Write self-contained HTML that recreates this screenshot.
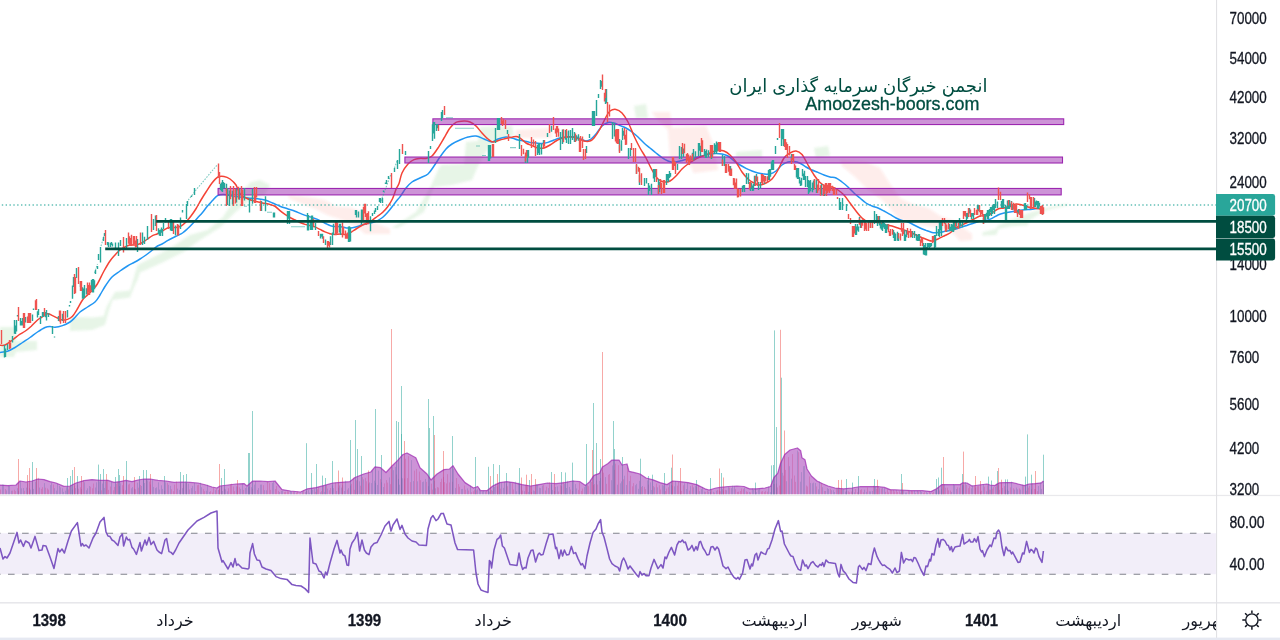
<!DOCTYPE html>
<html lang="fa"><head><meta charset="utf-8"><title>Chart</title>
<style>html,body{margin:0;padding:0;background:#fff;width:1280px;height:640px;overflow:hidden}svg{display:block;will-change:transform;font-family:"Liberation Sans",sans-serif}</style></head>
<body>
<svg width="1280" height="640" viewBox="0 0 1280 640">
<defs><clipPath id="tc"><rect x="0" y="603" width="1216" height="36"/></clipPath><filter id="bl" x="-10%" y="-10%" width="120%" height="120%"><feGaussianBlur stdDeviation="0.8"/></filter></defs>
<rect width="1280" height="640" fill="#fff"/>
<polygon points="0,327 15,327 16,341 37,341 37,350 16,352 14,357 0,357" fill="#4caf50" fill-opacity="0.13" filter="url(#bl)"/>
<polygon points="70,317 92.5,317.5 103.75,316.25 106.25,307.5 112.5,296.25 115,292 130,290.6 132.5,282.5 137.5,265 157.5,255 175,245 190,235 207.5,230 222.5,217.5 232.5,202.5 250,182.5 260,180 270,185 265,195 250,200 235,212.5 220,227.5 200,240 182.5,252.5 162.5,262.5 140,272.5 137.5,280 135,285 130,297.5 112.5,300 108.75,311.25 105,325 92.5,330 70,331" fill="#4caf50" fill-opacity="0.13" filter="url(#bl)"/>
<polygon points="288,195 310,197.5 325,200 335,206.25 350,207.5 362,212 372,222 390,229 390,234 365,234 356,226 340,219 327.5,215 315,208.75 300,203 290,199" fill="#f44336" fill-opacity="0.1" filter="url(#bl)"/>
<polygon points="392,228 416,212 430,188 438,170 441,165 464,164 466,142 478,141 480,127 512,126 514,135 492,143 486,152 478,166 472,180 452,185 434,187 424,212 398,228" fill="#4caf50" fill-opacity="0.13" filter="url(#bl)"/>
<polygon points="516,130 552,128 552,138 516,138" fill="#f44336" fill-opacity="0.1" filter="url(#bl)"/>
<polygon points="634,106 646,104 648,118 636,118" fill="#4caf50" fill-opacity="0.13" filter="url(#bl)"/>
<polygon points="652,112 670,112 672,128 706,126 714,146 718,170 694,173 688,162 670,158 668,130 656,118" fill="#f44336" fill-opacity="0.1" filter="url(#bl)"/>
<polygon points="736,152 762,150 762,158 736,158" fill="#4caf50" fill-opacity="0.13" filter="url(#bl)"/>
<polygon points="814,148 828,146 830,156 816,158" fill="#4caf50" fill-opacity="0.13" filter="url(#bl)"/>
<polygon points="840,160 866,162 880,168 890,184 900,198 912,204 928,208 940,216 952,220 972,234 972,240 960,241 954,234 940,228 928,226 912,222 900,220 888,206 880,198 866,188 854,176 842,166" fill="#f44336" fill-opacity="0.1" filter="url(#bl)"/>
<polygon points="982.5,232.5 996,228.75 998.75,225 1010,220 1020,216.25 1030,212.5 1040,210 1047.5,207.5 1057.5,205.6 1067.5,203.75 1067.5,205.6 1057.5,207.5 1047.5,210 1040,213.75 1030,220 1027.5,225.6 1012.5,226.25 998.75,228.75 996.25,235 982.5,235.6" fill="#4caf50" fill-opacity="0.13" filter="url(#bl)"/>
<line x1="0" y1="205" x2="1216.55" y2="205" stroke="#26a69a" stroke-width="1.6" stroke-dasharray="1.4 2.44" stroke-dashoffset="2.04" stroke-opacity="0.72"/>
<path d="M0 352.5C1.2 352.3 5.1 352.1 7.5 351.25C9.9 350.4 12.6 348.9 15 347.5C17.4 346.1 20.1 344.1 22.5 342.5C24.9 340.9 27.6 339.2 30 337.5C32.4 335.8 35.1 333.6 37.5 332C39.9 330.4 43.0 328.4 45 327.5C47.0 326.6 48.4 326.5 50 326.5C51.6 326.5 53.0 327.4 55 327.25C57.0 327.1 60.1 326.4 62.5 325.6C64.9 324.8 68.0 323.3 70 322C72.0 320.7 73.4 319.1 75 317.5C76.6 315.9 78.0 313.7 80 312C82.0 310.3 85.1 308.6 87.5 307C89.9 305.4 93.0 303.9 95 302C97.0 300.1 98.4 297.5 100 295C101.6 292.5 103.1 289.4 105 286.5C106.9 283.6 109.6 279.5 112 277C114.4 274.5 117.5 272.8 120 271C122.5 269.2 125.3 267.4 127.5 266C129.7 264.6 132.0 263.6 134 262.5C136.0 261.4 138.1 260.2 140 259C141.9 257.8 144.0 256.4 146 255C148.0 253.6 150.7 251.4 152.5 250C154.3 248.6 155.9 247.0 157.5 246C159.1 245.0 160.9 244.6 162.5 243.75C164.1 242.9 165.9 241.5 167.5 240.6C169.1 239.7 170.9 238.8 172.5 238C174.1 237.2 175.9 236.4 177.5 235.6C179.1 234.8 180.9 234.1 182.5 233C184.1 231.9 185.9 230.2 187.5 228.75C189.1 227.3 190.9 225.5 192.5 223.75C194.1 222.0 195.9 219.8 197.5 218C199.1 216.2 200.9 214.4 202.5 212.5C204.1 210.6 205.9 207.9 207.5 206C209.1 204.1 210.9 202.3 212.5 200.6C214.1 198.9 215.7 196.6 217.5 195.6C219.3 194.6 221.7 194.3 224 194.4C226.3 194.5 229.4 195.6 232 196C234.6 196.4 237.4 196.7 240 197C242.6 197.3 245.2 197.7 248 198C250.8 198.3 254.8 198.4 257.5 198.75C260.2 199.1 262.6 199.3 265 200C267.4 200.7 270.1 202.0 272.5 203C274.9 204.0 277.6 205.3 280 206.25C282.4 207.2 285.1 207.9 287.5 208.75C289.9 209.6 292.6 210.3 295 211.25C297.4 212.2 300.1 213.5 302.5 214.4C304.9 215.3 307.6 216.1 310 216.9C312.4 217.7 315.5 218.6 317.5 219.4C319.5 220.2 320.9 221.1 322.5 221.9C324.1 222.7 325.9 223.7 327.5 224.4C329.1 225.1 330.9 225.9 332.5 226.25C334.1 226.6 335.9 226.4 337.5 226.5C339.1 226.6 340.9 226.7 342.5 226.9C344.1 227.1 345.9 227.9 347.5 228C349.1 228.1 350.9 228.0 352.5 227.75C354.1 227.5 355.9 227.0 357.5 226.5C359.1 226.0 360.9 225.2 362.5 224.75C364.1 224.3 365.9 223.9 367.5 223.5C369.1 223.1 370.9 223.0 372.5 222.5C374.1 222.0 375.9 221.4 377.5 220.6C379.1 219.8 380.9 218.8 382.5 217.5C384.1 216.2 385.9 214.3 387.5 212.5C389.1 210.7 391.1 208.1 392.5 206.25C393.9 204.4 395.1 202.7 396.25 201.25C397.4 199.8 398.4 199.0 400 196.9C401.6 194.8 404.1 190.4 406 188C407.9 185.6 409.8 183.6 412 182C414.2 180.4 417.4 179.3 420 178C422.6 176.7 425.8 175.9 428 174C430.2 172.1 432.1 168.7 434 166C435.9 163.3 438.1 159.7 440 157C441.9 154.3 444.1 151.1 446 149C447.9 146.9 449.8 145.4 452 144C454.2 142.6 457.4 141.1 460 140C462.6 138.9 465.4 137.6 468 137C470.6 136.4 473.4 135.7 476 136C478.6 136.3 481.4 138.0 484 139C486.6 140.0 489.8 142.0 492 142C494.2 142.0 495.8 139.8 498 139C500.2 138.2 503.8 137.2 506 137C508.2 136.8 510.1 137.5 512 138C513.9 138.5 516.1 139.5 518 140C519.9 140.5 522.1 140.6 524 141C525.9 141.4 528.1 142.1 530 142.4C531.9 142.7 534.1 142.8 536 143C537.9 143.2 540.1 143.7 542 143.6C543.9 143.5 546.1 143.0 548 142.4C549.9 141.8 552.1 140.7 554 140C555.9 139.3 557.8 138.5 560 138C562.2 137.5 565.4 137.2 568 137C570.6 136.8 573.8 136.6 576 137C578.2 137.4 580.4 138.9 582 139.5C583.6 140.1 584.6 141.1 586 141C587.4 140.9 589.4 140.1 591 139C592.6 137.9 594.2 136.1 596 134C597.8 131.9 600.1 127.9 602 126C603.9 124.1 606.1 122.9 608 122.4C609.9 121.9 612.1 122.5 614 123C615.9 123.5 618.1 124.8 620 125.6C621.9 126.4 624.1 127.0 626 128C627.9 129.0 630.1 130.6 632 132C633.9 133.4 636.1 135.2 638 137C639.9 138.8 642.1 141.2 644 143C645.9 144.8 648.1 146.4 650 148C651.9 149.6 654.1 151.5 656 153C657.9 154.5 660.1 156.3 662 157.6C663.9 158.9 666.1 160.2 668 161C669.9 161.8 672.1 162.4 674 162.4C675.9 162.4 678.1 161.4 680 161C681.9 160.6 684.1 159.9 686 159.6C687.9 159.3 690.1 159.4 692 159C693.9 158.6 696.1 157.5 698 157C699.9 156.5 702.1 156.1 704 155.6C705.9 155.1 708.1 154.3 710 154C711.9 153.7 714.1 153.6 716 153.6C717.9 153.6 720.1 153.6 722 154C723.9 154.4 726.1 154.9 728 156C729.9 157.1 732.1 159.6 734 161C735.9 162.4 738.1 163.8 740 165C741.9 166.2 744.1 167.4 746 168.4C747.9 169.4 750.1 170.3 752 171C753.9 171.7 756.1 172.5 758 173C759.9 173.5 762.1 173.8 764 174C765.9 174.2 768.1 174.5 770 174C771.9 173.5 774.1 172.4 776 171C777.9 169.6 780.1 166.4 782 165C783.9 163.6 786.1 162.5 788 162C789.9 161.5 792.1 161.4 794 161.6C795.9 161.8 798.1 162.4 800 163.3C801.9 164.2 804.1 165.9 806 167C807.9 168.1 810.1 169.1 812 170C813.9 170.9 816.1 171.6 818 172.4C819.9 173.2 822.1 174.3 824 175C825.9 175.7 828.1 176.5 830 177C831.9 177.5 834.1 177.2 836 178C837.9 178.8 840.1 180.6 842 182C843.9 183.4 846.1 185.2 848 187C849.9 188.8 852.1 191.2 854 193C855.9 194.8 858.1 196.4 860 198C861.9 199.6 864.1 201.7 866 203C867.9 204.3 870.1 205.2 872 206C873.9 206.8 876.1 207.2 878 208C879.9 208.8 882.1 210.0 884 211C885.9 212.0 888.1 213.3 890 214.4C891.9 215.5 894.1 217.0 896 218C897.9 219.0 900.1 219.8 902 220.4C903.9 221.0 906.1 221.3 908 222C909.9 222.7 912.1 224.0 914 225C915.9 226.0 918.1 227.1 920 228C921.9 228.9 924.1 229.7 926 230.4C927.9 231.1 930.1 232.0 932 232.4C933.9 232.8 936.1 232.7 938 232.6C939.9 232.5 942.1 232.0 944 231.6C945.9 231.2 948.1 230.8 950 230.4C951.9 230.0 954.1 229.5 956 229C957.9 228.5 960.1 227.6 962 227C963.9 226.4 966.1 225.6 968 225C969.9 224.4 972.1 223.6 974 223C975.9 222.4 978.1 221.4 980 221C981.9 220.6 984.1 220.8 986 220.4C987.9 220.0 990.1 219.3 992 218.4C993.9 217.5 996.1 215.9 998 215C999.9 214.1 1002.1 213.5 1004 213C1005.9 212.5 1008.1 212.3 1010 212C1011.9 211.7 1014.1 211.3 1016 211C1017.9 210.7 1020.1 210.2 1022 210C1023.9 209.8 1026.1 209.8 1028 209.6C1029.9 209.4 1032.1 209.3 1034 209C1035.9 208.7 1038.6 208.2 1040 208C1041.4 207.8 1042.5 207.7 1043 207.7" stroke="#2196f3" stroke-width="1.5" fill="none" stroke-linejoin="round"/>
<path d="M0 345.2C0.8 345.2 3.0 345.8 5 345C7.0 344.2 10.3 341.6 12.5 340C14.7 338.4 16.8 336.4 18.75 335C20.8 333.6 23.0 332.6 25 331.25C27.0 329.9 29.2 328.1 31.25 326.25C33.2 324.4 35.9 321.4 37.5 320C39.1 318.6 39.6 318.5 41.25 317.5C42.9 316.5 45.7 314.1 47.5 313.75C49.3 313.4 50.9 314.9 52.5 315.6C54.1 316.3 55.9 317.3 57.5 318C59.1 318.7 60.9 319.8 62.5 320C64.1 320.2 65.9 320.0 67.5 319.4C69.1 318.8 70.9 318.0 72.5 316.25C74.1 314.5 75.9 311.4 77.5 308.75C79.1 306.1 80.9 302.2 82.5 300C84.1 297.8 85.9 296.6 87.5 295C89.1 293.4 90.9 291.8 92.5 290C94.1 288.2 95.7 286.8 97.5 283.75C99.3 280.7 102.0 274.6 104 271C106.0 267.4 108.2 263.6 110 261C111.8 258.4 113.4 256.8 115 255C116.6 253.2 118.4 251.3 120 250C121.6 248.7 123.4 247.8 125 247C126.6 246.2 128.2 245.3 130 245C131.8 244.7 134.0 245.4 136 245C138.0 244.6 140.7 243.5 142.5 242.5C144.3 241.5 145.9 240.1 147.5 239C149.1 237.9 150.9 236.4 152.5 235.6C154.1 234.8 155.9 234.5 157.5 233.75C159.1 233.0 160.9 231.9 162.5 231C164.1 230.1 166.1 228.6 167.5 228C168.9 227.4 169.6 227.6 171 227.5C172.4 227.4 174.4 227.7 176 227.5C177.6 227.3 179.4 226.9 181 226C182.6 225.1 184.4 223.6 186 222C187.6 220.4 189.4 218.1 191 216C192.6 213.9 194.4 211.3 196 208.75C197.6 206.2 199.4 202.7 201 200C202.6 197.3 204.2 194.7 206 192C207.8 189.3 210.1 185.4 212 183C213.9 180.6 216.1 178.1 218 177C219.9 175.9 222.1 176.1 224 176.4C225.9 176.7 228.1 177.6 230 179C231.9 180.4 234.4 182.6 236 185C237.6 187.4 238.2 191.6 240 193.75C241.8 195.9 245.1 197.6 247.5 198.75C249.9 199.9 252.6 200.6 255 201.25C257.4 201.9 260.1 202.5 262.5 203C264.9 203.5 268.0 203.9 270 204.4C272.0 204.9 273.4 205.3 275 206.25C276.6 207.2 278.4 209.3 280 210.6C281.6 211.9 283.4 213.3 285 214.4C286.6 215.5 288.4 216.6 290 217.5C291.6 218.4 293.4 219.2 295 220C296.6 220.8 298.4 221.8 300 222.5C301.6 223.2 303.4 223.9 305 224.4C306.6 224.9 308.4 225.2 310 225.6C311.6 226.0 313.4 226.3 315 226.9C316.6 227.5 318.4 228.6 320 229.4C321.6 230.2 323.4 231.2 325 231.9C326.6 232.6 328.4 233.3 330 233.75C331.6 234.2 333.4 234.4 335 234.4C336.6 234.4 338.4 234.0 340 234C341.6 234.0 343.6 234.4 345 234.4C346.4 234.4 347.6 234.3 348.75 233.75C349.9 233.2 351.1 232.2 352.5 231.25C353.9 230.3 355.9 229.0 357.5 228C359.1 227.0 360.9 225.8 362.5 225C364.1 224.2 365.9 223.8 367.5 223C369.1 222.2 370.9 221.1 372.5 220C374.1 218.9 375.9 217.4 377.5 216.25C379.1 215.1 380.9 214.0 382.5 212.5C384.1 211.0 385.9 209.2 387.5 207C389.1 204.8 391.1 201.7 392.5 198.75C393.9 195.8 395.2 191.2 396.25 188.75C397.3 186.3 398.1 186.0 399 183.5C399.9 181.0 400.6 176.1 402 173C403.4 169.9 406.1 166.1 408 164C409.9 161.9 412.1 160.5 414 159.6C415.9 158.7 418.1 158.6 420 158.4C421.9 158.2 424.1 158.8 426 158.4C427.9 158.0 430.1 157.7 432 156C433.9 154.3 436.1 150.9 438 148C439.9 145.1 442.1 141.2 444 138C445.9 134.8 448.1 130.5 450 128C451.9 125.5 453.8 123.5 456 122.4C458.2 121.3 461.8 121.1 464 121C466.2 120.9 468.1 121.2 470 122C471.9 122.8 474.1 124.2 476 126C477.9 127.8 480.1 130.9 482 133C483.9 135.1 486.2 137.6 488 139C489.8 140.4 491.1 141.8 493 142C494.9 142.2 497.6 140.6 500 140C502.4 139.4 505.4 138.6 508 138C510.6 137.4 514.1 136.4 516 136.4C517.9 136.4 518.4 136.9 520 138C521.6 139.1 524.1 141.8 526 143C527.9 144.2 530.1 144.8 532 145.6C533.9 146.4 536.1 147.6 538 148C539.9 148.4 542.1 148.5 544 148C545.9 147.5 548.1 146.1 550 145C551.9 143.9 554.4 142.0 556 141C557.6 140.0 558.4 139.6 560 139C561.6 138.4 564.1 137.3 566 137C567.9 136.7 570.1 136.8 572 137C573.9 137.2 576.1 137.9 578 138.5C579.9 139.1 582.1 140.6 584 141C585.9 141.4 588.4 141.5 590 141C591.6 140.5 592.4 139.9 594 138C595.6 136.1 598.1 132.4 600 129C601.9 125.6 604.4 119.9 606 117C607.6 114.1 608.4 112.2 610 111C611.6 109.8 614.1 109.1 616 109.4C617.9 109.7 620.1 111.0 622 113C623.9 115.0 626.1 118.3 628 122C629.9 125.7 632.1 131.8 634 136C635.9 140.2 638.1 144.5 640 148C641.9 151.5 644.1 154.5 646 158C647.9 161.5 650.1 166.6 652 170C653.9 173.4 656.1 177.1 658 179C659.9 180.9 662.1 181.7 664 182C665.9 182.3 668.1 182.0 670 181C671.9 180.0 674.1 177.9 676 176C677.9 174.1 680.1 170.9 682 169C683.9 167.1 686.1 165.4 688 164C689.9 162.6 692.1 161.1 694 160C695.9 158.9 698.1 157.8 700 157C701.9 156.2 704.1 155.8 706 155C707.9 154.2 710.1 152.7 712 152C713.9 151.3 716.1 150.6 718 150.4C719.9 150.2 722.1 150.3 724 151C725.9 151.7 728.1 153.2 730 155C731.9 156.8 734.1 159.3 736 162C737.9 164.7 740.1 169.3 742 172C743.9 174.7 746.1 177.2 748 179C749.9 180.8 752.1 182.0 754 183C755.9 184.0 758.1 185.0 760 185C761.9 185.0 764.1 184.0 766 183C767.9 182.0 770.1 181.1 772 179C773.9 176.9 776.1 173.4 778 170C779.9 166.6 782.1 160.7 784 158C785.9 155.3 788.1 154.1 790 153C791.9 151.9 794.1 150.8 796 151C797.9 151.2 800.1 152.3 802 154.5C803.9 156.7 806.1 161.7 808 165C809.9 168.3 812.1 172.2 814 175C815.9 177.8 818.1 180.7 820 182.5C821.9 184.3 824.1 185.7 826 186.4C827.9 187.1 830.1 186.4 832 187C833.9 187.6 836.1 188.7 838 190C839.9 191.3 842.1 192.9 844 195C845.9 197.1 848.1 200.4 850 203C851.9 205.6 854.1 208.6 856 211C857.9 213.4 860.1 216.3 862 218C863.9 219.7 866.1 221.0 868 221.6C869.9 222.2 872.1 221.8 874 222C875.9 222.2 878.1 222.5 880 223C881.9 223.5 884.1 224.5 886 225C887.9 225.5 890.1 225.5 892 226C893.9 226.5 896.1 227.4 898 228C899.9 228.6 902.1 229.4 904 230C905.9 230.6 908.1 231.2 910 232C911.9 232.8 914.1 234.1 916 235C917.9 235.9 920.1 236.8 922 237.6C923.9 238.4 926.4 239.5 928 240C929.6 240.5 930.4 241.2 932 241C933.6 240.8 936.1 239.8 938 239C939.9 238.2 942.1 237.0 944 236C945.9 235.0 948.1 234.3 950 233C951.9 231.7 954.1 229.3 956 228C957.9 226.7 960.1 226.0 962 225C963.9 224.0 966.1 223.0 968 222C969.9 221.0 972.1 220.0 974 219C975.9 218.0 978.1 216.5 980 216C981.9 215.5 984.1 216.5 986 216C987.9 215.5 990.1 214.1 992 213C993.9 211.9 996.1 209.8 998 209C999.9 208.2 1002.1 208.5 1004 208C1005.9 207.5 1008.1 206.6 1010 206C1011.9 205.4 1014.1 204.2 1016 204C1017.9 203.8 1020.1 204.5 1022 205C1023.9 205.5 1026.1 206.5 1028 207C1029.9 207.5 1032.1 207.7 1034 208C1035.9 208.3 1038.6 208.8 1040 209C1041.4 209.2 1042.5 209.4 1043 209.5" stroke="#f44336" stroke-width="1.5" fill="none" stroke-linejoin="round"/>
<rect x="432.9" y="118.85" width="630.8" height="5.7" fill="#9c27b0" fill-opacity="0.5" stroke="#9c27b0" stroke-width="1.1"/>
<rect x="404.9" y="157.05" width="657.6" height="5.95" fill="#9c27b0" fill-opacity="0.5" stroke="#9c27b0" stroke-width="1.1"/>
<rect x="218.1" y="188.45" width="843.1" height="6.45" fill="#9c27b0" fill-opacity="0.5" stroke="#9c27b0" stroke-width="1.1"/>
<path d="M244 206.2H247M267 212.2H272M275 220.8H290M291 226.7H305M352.5 221.3H356M446 117.7H453M455 128.2H474M476 146.0H480M482 155.5H486M510 147.6H516" stroke="#26a69a" stroke-width="1.1" stroke-opacity="0.55" fill="none"/>
<path d="M4.5 345.0V357.5M5.5 348.6V357.1M4.5 345.0V352.5M4.5 350.0V357.5M7.5 344.0V350.0M12.5 336.0V342.5M14.5 320.0V333.8M16.5 320.0V331.4M14.5 320.0V328.4M15.5 325.6V334.0M17.5 315.0V316.5M20.5 318.0V325.6M22.5 318.0V325.6M20.5 318.0V322.6M21.5 321.0V325.6M25.5 317.0V322.5M32.5 314.5V321.0M33.5 308.5V310.0M37.5 311.2V316.6M38.5 309.0V314.9M38.5 309.0V314.1M37.5 312.4V317.5M40.5 316.0V324.0M42.5 312.0V316.1M43.5 312.0V317.0M42.5 312.0V315.0M42.5 314.0V317.0M45.5 312.0V317.3M46.5 310.0V319.1M48.5 313.3V317.0M46.5 310.0V316.4M46.5 314.2V320.6M52.5 326.0V334.0M54.5 336.5V337.5M58.5 316.0V321.0M62.5 313.8V321.0M67.5 310.0V317.5M69.5 305.0V306.5M70.5 301.0V303.0M72.5 285.6V298.8M73.5 277.0V287.0M76.5 268.0V278.0M80.5 281.0V287.0M82.5 287.3V298.8M83.5 288.6V298.8M84.5 285.0V297.8M86.5 288.3V294.4M84.5 285.0V293.2M83.5 290.5V298.8M91.5 280.1V290.1M92.5 279.0V292.5M94.5 280.2V289.2M93.5 279.0V287.1M93.5 284.4V292.5M95.5 270.0V274.0M97.5 266.0V269.0M98.5 254.0V260.0M100.5 247.0V262.5M103.5 237.0V241.0M104.5 233.0V236.0M107.5 242.0V245.3M108.5 242.2V247.0M110.5 242.8V245.3M112.5 243.6V246.4M111.5 242.0V245.0M110.5 244.0V247.0M115.5 242.5V250.0M118.5 242.5V256.0M120.5 240.0V246.0M126.5 238.0V249.0M137.5 239.0V252.0M142.5 232.5V244.6M144.5 236.8V244.1M142.5 232.5V240.0M142.5 237.5V245.0M147.5 226.0V240.0M153.5 219.0V230.0M155.5 215.6V226.0M158.5 228.2V234.3M159.5 230.0V235.8M160.5 229.5V233.6M162.5 229.1V236.0M161.5 227.5V232.6M160.5 230.9V236.0M163.5 223.0V229.0M165.5 218.0V222.5M170.5 219.0V230.4M172.5 221.6V231.0M171.5 219.0V226.2M171.5 223.8V231.0M175.5 225.6V235.6M180.5 217.5V229.0M182.5 210.0V212.5M186.5 204.0V219.0M187.5 201.0V206.0M191.5 195.6V197.0M194.5 188.0V195.0M220.5 183.8V190.1M221.5 182.5V191.2M223.5 182.1V188.6M224.5 182.9V188.3M226.5 183.7V191.1M222.5 180.0V187.2M222.5 184.8V192.0M227.5 188.1V205.1M229.5 190.5V206.0M232.5 190.7V204.4M236.5 188.7V202.4M239.5 187.9V199.7M244.5 188.0V200.4M249.5 198.8V212.5M252.5 188.8V203.8M261.5 201.0V211.0M265.5 196.2V211.2M273.5 212.5V216.6M274.5 212.5V217.5M273.5 212.5V215.5M273.5 214.5V217.5M287.5 211.0V223.9M289.5 211.0V224.0M288.5 211.0V218.8M289.5 216.2V224.0M307.5 213.0V230.6M308.5 215.1V230.6M307.5 213.0V223.6M307.5 220.0V230.6M310.5 219.8V229.9M312.5 215.6V230.0M311.5 215.6V224.2M311.5 221.4V230.0M315.5 223.0V230.0M320.5 233.8V238.4M322.5 233.8V238.8M321.5 233.8V236.8M322.5 235.8V238.8M325.5 239.4V245.0M330.5 236.2V245.0M332.5 232.5V245.0M333.5 223.8V235.0M339.5 226.7V232.4M340.5 223.8V233.1M339.5 223.8V230.5M340.5 228.2V235.0M348.5 226.6V241.9M349.5 229.9V241.9M350.5 227.6V241.5M349.5 226.2V235.6M348.5 232.5V241.9M355.5 211.9V214.9M356.5 210.0V215.1M358.5 211.6V217.5M355.5 210.0V214.5M356.5 213.0V217.5M361.5 209.4V224.4M362.5 211.9V221.8M362.5 209.4V218.4M361.5 215.4V224.4M370.5 216.2V231.2M372.5 213.0V216.0M374.5 210.5V214.0M375.5 208.0V212.0M377.5 206.0V210.0M379.5 198.0V202.1M380.5 198.0V203.0M382.5 198.0V203.0M380.5 198.0V201.0M380.5 200.0V203.0M383.5 190.5V192.0M385.5 182.5V184.0M386.5 180.0V184.0M388.5 176.0V179.0M394.5 168.0V172.0M397.5 160.0V169.0M399.5 149.0V164.0M405.5 151.0V155.0M428.5 151.0V163.0M430.5 146.0V149.0M432.5 124.3V141.0M434.5 122.0V138.8M433.5 122.0V133.4M432.5 129.6V141.0M436.5 124.0V129.2M437.5 124.0V128.2M436.5 126.8V131.0M441.5 112.0V121.0M442.5 110.0V118.0M488.5 145.0V161.0M490.5 145.0V158.6M489.5 145.0V154.6M489.5 151.4V161.0M495.5 128.0V143.0M497.5 118.0V130.0M499.5 118.0V130.0M498.5 118.0V125.2M498.5 122.8V130.0M507.5 130.0V134.0M519.5 134.0V149.0M527.5 150.0V163.0M525.5 155.2V163.0M528.5 150.0V158.0M537.5 144.7V155.0M538.5 143.5V153.2M539.5 143.0V153.4M541.5 144.0V154.5M539.5 143.0V150.2M539.5 147.8V155.0M543.5 140.0V145.4M547.5 133.0V137.0M551.5 125.8V131.8M560.5 132.0V150.0M562.5 129.4V142.8M565.5 130.0V139.8M566.5 131.6V142.9M568.5 130.4V144.0M570.5 130.0V144.0M562.5 135.0V144.0M572.5 128.0V140.0M574.5 132.0V142.0M576.5 135.3V140.8M578.5 134.3V140.7M574.5 132.0V138.0M586.5 146.0V153.0M589.5 134.0V138.0M592.5 111.0V126.0M594.5 111.0V126.0M593.5 111.0V120.0M593.5 117.0V126.0M596.5 100.0V116.0M598.5 94.0V98.0M600.5 80.8V86.7M601.5 80.9V86.7M600.5 80.0V85.4M600.5 83.6V89.0M606.5 89.0V103.3M605.5 95.0V104.0M612.5 124.4V135.1M614.5 123.0V136.5M612.5 122.0V132.2M612.5 128.8V139.0M619.5 140.4V151.6M621.5 140.3V150.8M619.5 139.0V147.4M622.5 128.0V140.0M623.5 130.7V135.8M622.5 128.0V135.2M622.5 132.8V140.0M628.5 148.0V159.0M630.5 148.0V156.3M628.5 148.0V154.6M628.5 152.4V159.0M636.5 164.7V174.0M639.5 174.8V185.0M644.5 178.0V186.0M646.5 178.0V183.5M644.5 178.0V182.8M644.5 181.2V186.0M648.5 183.6V195.0M649.5 185.4V191.1M651.5 183.7V195.0M648.5 183.0V190.2M648.5 187.8V195.0M653.5 169.0V178.6M654.5 169.0V182.0M655.5 169.0V176.8M654.5 174.2V182.0M658.5 179.0V194.0M659.5 181.7V192.0M666.5 174.1V182.6M668.5 174.0V182.1M667.5 174.0V180.6M666.5 178.4V185.0M669.5 171.2V178.0M670.5 173.0V176.8M669.5 171.0V175.2M669.5 173.8V178.0M677.5 164.1V170.0M679.5 150.1V156.9M681.5 146.9V159.0M679.5 146.0V153.8M679.5 151.2V159.0M683.5 148.6V157.0M692.5 152.7V157.1M693.5 149.1V160.4M695.5 151.2V157.2M693.5 149.0V156.2M698.5 143.0V153.6M700.5 145.7V156.0M699.5 143.0V150.8M698.5 148.2V156.0M704.5 149.0V156.0M705.5 150.9V158.0M706.5 149.5V158.0M708.5 150.3V157.3M704.5 149.0V154.4M706.5 152.6V158.0M711.5 150.6V159.0M714.5 143.2V154.0M715.5 144.8V152.0M717.5 142.7V151.2M716.5 141.6V149.0M716.5 146.6V154.0M722.5 155.0V166.0M724.5 155.9V166.0M722.5 155.0V161.6M730.5 166.0V172.0M742.5 185.7V190.2M744.5 185.0V192.0M743.5 185.0V189.2M742.5 187.8V192.0M746.5 173.0V182.3M748.5 173.2V184.0M746.5 173.0V179.6M746.5 177.4V184.0M750.5 183.9V191.0M751.5 182.7V188.8M753.5 184.0V190.7M752.5 185.6V191.0M754.5 175.8V186.0M756.5 174.0V181.2M758.5 183.5V187.6M760.5 182.0V188.8M758.5 182.0V186.8M758.5 185.2V190.0M765.5 176.0V180.8M764.5 179.2V184.0M768.5 170.1V180.0M770.5 169.0V176.7M769.5 169.0V175.6M769.5 173.4V180.0M771.5 161.6V170.0M773.5 160.0V170.0M772.5 160.0V166.0M772.5 164.0V170.0M775.5 146.0V154.0M777.5 138.0V140.0M781.5 129.0V146.0M783.5 129.0V146.0M782.5 129.0V139.2M781.5 135.8V146.0M791.5 154.0V160.7M796.5 168.1V177.4M798.5 168.0V179.0M797.5 168.0V174.6M797.5 172.4V179.0M799.5 177.7V183.5M801.5 177.7V185.6M799.5 177.0V182.4M800.5 180.6V186.0M802.5 169.9V176.3M804.5 170.8V180.0M802.5 169.0V175.6M803.5 173.4V180.0M805.5 177.0V185.6M807.5 176.0V187.0M805.5 176.0V182.6M805.5 180.4V187.0M808.5 180.0V191.9M809.5 180.7V192.5M810.5 180.0V191.2M812.5 182.6V192.3M808.5 180.0V188.4M808.5 185.6V194.0M813.5 180.4V190.0M816.5 179.8V193.0M814.5 179.0V187.4M821.5 184.1V195.3M824.5 188.2V196.0M839.5 198.0V207.0M840.5 202.1V210.0M842.5 198.0V210.0M839.5 198.0V205.2M839.5 202.8V210.0M846.5 204.0V211.0M855.5 224.0V235.0M856.5 226.6V233.2M858.5 226.6V231.7M857.5 224.0V230.6M856.5 228.4V235.0M860.5 220.3V228.0M859.5 217.0V223.6M870.5 220.0V224.8M870.5 223.2V228.0M874.5 214.3V223.6M876.5 214.0V220.0M874.5 211.0V218.8M874.5 216.2V224.0M877.5 216.0V223.1M879.5 216.0V225.4M877.5 220.0V226.0M880.5 222.5V228.5M881.5 224.0V229.7M882.5 222.0V231.0M884.5 222.9V229.0M883.5 222.0V227.4M882.5 225.6V231.0M885.5 224.0V231.7M886.5 225.2V233.0M887.5 224.0V229.4M885.5 227.6V233.0M893.5 231.5V238.0M894.5 232.3V241.0M895.5 233.6V238.7M897.5 231.8V240.7M893.5 230.0V236.6M895.5 234.4V241.0M898.5 236.2V241.0M904.5 230.0V241.0M906.5 230.0V237.2M904.5 230.0V236.6M905.5 234.4V241.0M912.5 233.3V238.0M914.5 231.0V238.0M912.5 231.0V235.2M912.5 233.8V238.0M916.5 234.0V240.5M917.5 236.3V240.9M919.5 234.0V241.0M918.5 234.0V238.2M918.5 236.8V241.0M923.5 243.0V254.5M924.5 245.1V254.9M926.5 247.0V255.6M925.5 243.0V250.6M925.5 248.0V255.6M927.5 243.0V248.0M929.5 243.0V249.7M928.5 243.0V247.2M927.5 245.8V250.0M930.5 243.0V246.9M931.5 243.0V246.3M930.5 243.0V245.4M930.5 244.6V247.0M934.5 235.0V247.4M935.5 235.0V247.4M934.5 235.0V243.4M934.5 240.6V249.0M936.5 226.0V233.2M938.5 228.9V236.0M936.5 226.0V232.0M936.5 230.0V236.0M939.5 222.3V235.7M941.5 221.0V236.1M940.5 221.0V230.6M939.5 227.4V237.0M945.5 223.0V228.4M946.5 226.6V232.0M949.5 224.0V230.5M951.5 224.0V231.0M949.5 224.0V228.2M950.5 226.8V231.0M952.5 224.6V231.7M954.5 221.5V229.4M953.5 221.0V227.6M953.5 225.4V232.0M956.5 222.0V226.4M956.5 221.0V225.8M955.5 224.2V229.0M959.5 221.3V228.0M960.5 219.9V226.1M962.5 221.4V227.2M959.5 218.0V224.0M959.5 222.0V228.0M966.5 213.0V218.2M967.5 213.0V218.8M966.5 213.0V217.2M966.5 215.8V220.0M969.5 208.0V213.4M968.5 211.6V217.0M971.5 213.0V218.3M973.5 213.0V219.0M972.5 213.0V216.6M971.5 215.4V219.0M977.5 205.0V215.0M978.5 205.0V211.0M985.5 214.0V222.2M984.5 214.0V220.0M983.5 218.0V224.0M986.5 212.8V216.1M988.5 210.0V219.0M987.5 210.0V215.4M987.5 213.6V219.0M989.5 209.0V215.4M991.5 207.0V216.0M990.5 207.0V212.4M989.5 210.6V216.0M992.5 205.2V213.3M994.5 204.0V214.0M993.5 204.0V210.0M992.5 208.0V214.0M995.5 199.9V208.0M997.5 201.4V208.0M995.5 199.0V204.4M995.5 202.6V208.0M1001.5 201.1V208.0M1003.5 199.0V208.0M1002.5 199.0V204.4M1002.5 202.6V208.0M1005.5 205.0V220.0M1006.5 207.2V220.0M1005.5 205.0V214.0M1005.5 211.0V220.0M1007.5 200.5V209.0M1009.5 200.0V209.0M1008.5 203.6V209.0M1010.5 203.5V207.3M1011.5 201.0V206.4M1012.5 204.6V210.0M1017.5 210.5V214.2M1018.5 209.0V213.8M1024.5 203.2V210.0M1026.5 205.0V210.0M1025.5 203.0V207.2M1025.5 205.8V210.0M1034.5 198.0V207.0M1036.5 200.4V205.2M1034.5 198.0V203.4M1035.5 201.6V207.0M1037.5 201.1V208.8M1039.5 202.7V206.7M1038.5 201.0V205.8M1038.5 204.2V209.0M1042.5 205.1V215.0" stroke="#26a69a" stroke-width="1.4" fill="none"/>
<path d="M1.5 330.0V344.0M9.5 340.2V349.0M10.5 342.6V348.6M9.5 340.0V345.4M9.5 343.6V349.0M18.5 307.0V321.0M23.5 313.0V328.0M24.5 313.0V328.0M24.5 313.0V322.0M23.5 319.0V328.0M27.5 316.4V323.0M28.5 313.0V323.0M30.5 313.0V323.0M29.5 313.0V319.0M29.5 317.0V323.0M35.5 300.3V308.7M36.5 299.0V310.0M36.5 299.0V305.6M35.5 303.4V310.0M44.5 308.0V316.0M59.5 310.6V321.5M60.5 310.6V323.8M60.5 310.6V318.5M60.5 315.9V323.8M63.5 311.0V320.4M65.5 311.0V323.0M63.5 311.0V318.2M63.5 315.8V323.0M74.5 274.0V294.0M75.5 277.1V293.2M74.5 274.0V286.0M74.5 282.0V294.0M78.5 267.0V284.0M80.5 281.0V291.0M81.5 281.0V291.0M81.5 285.0V291.0M87.5 282.5V294.3M88.5 284.9V292.8M90.5 285.2V291.6M89.5 282.5V290.0M89.5 287.5V295.0M105.5 230.0V245.0M123.5 237.0V252.5M128.5 232.5V243.7M129.5 236.2V246.0M131.5 234.7V246.0M128.5 232.5V240.6M130.5 237.9V246.0M133.5 236.1V245.1M134.5 236.0V244.2M136.5 236.0V246.9M133.5 236.0V242.9M135.5 240.6V247.5M140.5 232.5V245.0M151.5 214.0V232.0M156.5 215.0V231.0M168.5 220.6V229.0M173.5 221.0V234.0M177.5 224.0V235.6M178.5 224.8V235.6M177.5 224.0V231.0M177.5 228.6V235.6M218.5 163.6V178.0M219.5 172.0V184.0M226.5 188.2V201.3M230.5 187.5V199.3M233.5 186.0V206.0M235.5 188.6V203.6M238.5 186.8V199.6M241.5 186.0V200.1M242.5 189.8V206.0M230.5 186.0V198.0M226.5 194.0V206.0M241.5 190.0V206.0M242.5 191.5V206.0M242.5 190.0V199.6M241.5 196.4V206.0M254.5 187.0V203.0M256.5 187.0V197.6M254.5 187.0V196.6M255.5 193.4V203.0M260.5 200.6V211.0M313.5 218.8V226.2M318.5 231.0V236.0M323.5 236.2V243.0M327.5 241.0V247.8M329.5 242.0V247.5M328.5 241.0V245.7M327.5 244.1V248.8M335.5 221.9V235.0M337.5 222.6V233.5M336.5 220.6V229.2M336.5 226.4V235.0M342.5 222.5V237.5M343.5 226.8V234.4M342.5 222.5V231.5M342.5 228.5V237.5M345.5 231.6V238.8M347.5 232.4V238.8M345.5 230.6V235.5M346.5 233.9V238.8M363.5 206.7V220.0M365.5 203.8V216.9M364.5 203.8V213.5M363.5 210.2V220.0M366.5 213.5V221.1M367.5 213.1V220.6M368.5 211.2V224.3M368.5 211.2V219.5M366.5 216.8V225.0M391.5 173.0V188.0M402.5 144.0V154.0M438.5 125.0V131.0M444.5 106.0V115.0M492.5 145.9V157.0M493.5 144.0V157.0M492.5 144.0V151.8M492.5 149.2V157.0M501.5 117.8V123.9M503.5 118.8V124.8M501.5 117.0V122.4M502.5 120.6V126.0M505.5 120.0V129.0M508.5 134.0V141.0M521.5 148.1V153.9M523.5 148.8V154.3M521.5 145.0V151.6M521.5 149.4V156.0M525.5 152.5V161.5M526.5 150.0V157.8M531.5 138.9V148.0M533.5 139.6V146.0M531.5 137.0V143.6M531.5 141.4V148.0M535.5 141.0V156.0M543.5 143.0V149.0M544.5 140.1V146.5M543.5 143.6V149.0M549.5 124.0V132.6M549.5 124.0V129.4M549.5 127.6V133.0M553.5 117.0V130.0M555.5 128.5V133.6M556.5 126.0V136.0M558.5 128.5V136.8M557.5 126.0V132.6M556.5 130.4V137.0M563.5 129.2V142.2M566.5 129.0V138.0M575.5 133.6V139.5M575.5 136.0V142.0M579.5 138.4V152.0M580.5 136.0V152.0M582.5 136.5V148.1M580.5 136.0V145.6M580.5 142.4V152.0M583.5 150.2V160.0M585.5 149.0V159.0M583.5 149.0V155.6M583.5 153.4V160.0M602.5 74.4V90.0M604.5 92.8V101.6M605.5 89.0V98.0M607.5 106.3V119.7M609.5 104.5V116.5M607.5 102.0V114.0M607.5 110.0V122.0M615.5 129.5V141.4M616.5 129.0V143.3M618.5 129.0V144.0M617.5 129.0V138.0M617.5 135.0V144.0M619.5 144.6V153.0M624.5 128.0V139.6M626.5 129.4V144.7M624.5 128.0V138.2M625.5 134.8V145.0M631.5 143.0V150.0M633.5 148.0V162.0M635.5 148.0V162.0M633.5 148.0V156.4M633.5 153.6V162.0M638.5 166.8V171.7M636.5 164.0V170.0M636.5 168.0V174.0M639.5 168.0V182.5M641.5 173.3V185.0M639.5 168.0V178.2M656.5 169.0V182.0M661.5 182.8V194.0M660.5 179.0V188.0M658.5 185.0V194.0M663.5 182.5V190.1M664.5 180.0V193.0M663.5 180.0V187.8M663.5 185.2V193.0M672.5 157.0V170.0M674.5 160.4V165.9M673.5 157.0V164.8M673.5 162.2V170.0M675.5 162.0V174.0M675.5 162.0V169.2M675.5 166.8V174.0M682.5 145.0V153.9M684.5 143.8V153.2M682.5 143.0V151.4M686.5 154.1V162.8M687.5 153.0V160.8M688.5 154.4V164.7M690.5 155.6V161.0M687.5 153.0V160.2M689.5 157.8V165.0M692.5 153.8V161.0M701.5 138.0V152.0M702.5 140.2V152.0M701.5 138.0V146.4M701.5 143.6V152.0M710.5 145.0V158.3M712.5 145.0V157.5M711.5 145.0V153.4M718.5 142.0V151.1M720.5 142.0V152.0M719.5 142.0V148.0M719.5 146.0V152.0M722.5 159.4V166.0M725.5 164.0V173.0M726.5 165.4V173.0M728.5 164.0V171.8M726.5 164.0V169.4M725.5 167.6V173.0M729.5 166.0V175.6M731.5 168.5V175.9M730.5 170.0V176.0M733.5 178.8V185.3M734.5 178.3V189.0M736.5 178.4V188.2M733.5 178.0V184.6M735.5 182.4V189.0M737.5 190.7V195.5M738.5 189.0V197.3M740.5 188.7V196.5M737.5 188.0V193.8M737.5 191.8V197.6M749.5 182.0V189.5M750.5 182.0V187.4M755.5 175.8V186.0M757.5 176.6V186.0M755.5 178.8V186.0M761.5 174.0V183.2M763.5 175.1V181.5M762.5 174.0V180.0M762.5 178.0V184.0M764.5 176.0V183.0M765.5 176.7V181.3M767.5 176.3V182.9M779.5 123.0V138.0M784.5 139.0V147.0M786.5 142.3V150.0M785.5 139.0V145.6M785.5 143.4V150.0M787.5 148.3V158.0M789.5 145.9V155.6M787.5 144.0V152.4M787.5 149.6V158.0M793.5 154.0V162.1M792.5 154.0V160.0M791.5 158.0V164.0M794.5 164.4V170.0M795.5 165.5V170.0M794.5 164.0V167.6M794.5 166.4V170.0M814.5 179.0V189.2M818.5 179.0V190.4M817.5 184.6V193.0M820.5 185.2V195.7M823.5 184.5V196.0M824.5 184.7V194.1M826.5 183.0V195.9M825.5 183.0V190.8M827.5 184.8V193.0M828.5 183.0V191.5M830.5 183.0V190.7M832.5 185.7V191.1M829.5 183.0V189.0M829.5 187.0V193.0M833.5 188.6V192.7M834.5 189.3V195.0M836.5 189.4V195.0M834.5 187.0V191.8M833.5 190.2V195.0M837.5 197.0V199.0M848.5 214.0V219.0M850.5 218.0V224.0M852.5 226.0V237.0M854.5 226.0V233.5M853.5 226.0V232.6M853.5 230.4V237.0M859.5 218.4V224.8M862.5 219.2V225.8M861.5 221.4V228.0M864.5 222.2V231.0M865.5 220.0V229.5M866.5 223.0V228.9M868.5 220.8V231.0M864.5 220.0V226.6M866.5 224.4V231.0M870.5 220.0V228.0M872.5 220.4V228.0M878.5 216.0V222.0M888.5 224.0V232.2M889.5 231.0V236.0M890.5 229.7V233.9M892.5 229.0V234.8M890.5 229.0V233.2M890.5 231.8V236.0M898.5 235.5V238.5M900.5 233.6V240.4M898.5 233.0V237.8M901.5 224.1V231.8M903.5 223.0V234.3M901.5 223.0V230.8M902.5 228.2V236.0M907.5 229.5V234.7M908.5 231.4V238.0M910.5 228.7V237.4M907.5 228.0V234.0M908.5 232.0V238.0M911.5 231.0V236.9M920.5 239.4V246.0M922.5 238.0V246.0M921.5 238.0V242.8M920.5 241.2V246.0M932.5 236.0V241.9M933.5 236.0V242.3M932.5 236.0V240.2M932.5 238.8V243.0M942.5 218.0V225.0M944.5 218.0V223.7M942.5 218.0V222.8M942.5 221.2V226.0M945.5 223.0V232.0M946.5 224.6V231.3M948.5 223.0V229.2M955.5 221.1V227.0M958.5 223.0V229.0M963.5 211.0V219.0M965.5 211.0V216.7M964.5 211.0V215.8M963.5 214.2V219.0M968.5 208.0V217.0M970.5 209.5V217.0M974.5 209.3V215.0M976.5 210.1V215.0M974.5 208.0V212.2M974.5 210.8V215.0M979.5 205.0V212.3M977.5 209.0V215.0M980.5 210.0V217.0M982.5 210.0V215.7M981.5 210.0V214.2M980.5 212.8V217.0M983.5 214.0V224.0M998.5 187.4V200.0M1000.5 191.8V200.0M998.5 187.4V195.0M998.5 192.4V200.0M1008.5 200.0V205.4M1011.5 201.6V210.0M1013.5 202.8V209.7M1014.5 205.0V213.0M1016.5 205.0V213.0M1015.5 205.0V209.8M1015.5 208.2V213.0M1019.5 209.0V215.1M1017.5 212.2V217.0M1020.5 210.0V218.0M1022.5 210.0V218.0M1021.5 210.0V214.8M1021.5 213.2V218.0M1027.5 195.7V202.0M1029.5 194.2V199.3M1027.5 192.4V198.2M1027.5 196.2V202.0M1030.5 199.4V208.6M1031.5 197.0V208.8M1033.5 197.0V209.0M1030.5 197.0V204.2M1030.5 201.8V209.0M1040.5 206.4V214.0M1041.5 206.1V214.0M1040.5 206.0V210.8M1040.5 209.2V214.0M1043.5 207.2V214.1M1042.5 205.0V211.0M1042.5 209.0V215.0" stroke="#ef5350" stroke-width="1.4" fill="none"/>
<polyline points="186.5,202.5 196,190 217.5,164.5" fill="none" stroke="#26a69a" stroke-width="1.1" stroke-opacity="0.6" stroke-dasharray="1.6 1.3"/>
<polyline points="94.5,273 97.5,264" fill="none" stroke="#26a69a" stroke-width="1.1" stroke-opacity="0.6" stroke-dasharray="1.6 1.3"/>
<polyline points="101,246 105,233" fill="none" stroke="#26a69a" stroke-width="1.1" stroke-opacity="0.6" stroke-dasharray="1.6 1.3"/>
<polyline points="381,201 391,174" fill="none" stroke="#26a69a" stroke-width="1.1" stroke-opacity="0.6" stroke-dasharray="1.6 1.3"/>
<polyline points="394.5,168 397,161" fill="none" stroke="#26a69a" stroke-width="1.1" stroke-opacity="0.6" stroke-dasharray="1.6 1.3"/>
<line x1="156.2" y1="221.3" x2="1216.55" y2="221.3" stroke="#004d40" stroke-width="2.8"/>
<line x1="105.2" y1="248.8" x2="1216.55" y2="248.8" stroke="#004d40" stroke-width="2.8"/>
<path d="M2.5 494.3V484.4M3.5 494.3V484.6M6.5 494.3V490.4M8.5 494.3V485.5M9.5 494.3V486.0M11.5 494.3V490.7M17.5 494.3V488.2M18.5 494.3V490.6M20.5 494.3V481.4M21.5 494.3V488.3M23.5 494.3V488.0M26.5 494.3V487.6M27.5 494.3V483.4M30.5 494.3V489.6M33.5 494.3V488.9M35.5 494.3V481.7M36.5 494.3V478.2M39.5 494.3V487.5M44.5 494.3V483.1M50.5 494.3V485.1M51.5 494.3V482.9M54.5 494.3V488.2M56.5 494.3V490.6M57.5 494.3V483.8M59.5 494.3V486.0M60.5 494.3V487.4M62.5 494.3V488.3M63.5 494.3V491.8M65.5 494.3V490.7M66.5 494.3V487.2M71.5 494.3V485.5M72.5 494.3V489.6M75.5 494.3V488.1M81.5 494.3V489.0M84.5 494.3V482.3M86.5 494.3V490.3M87.5 494.3V488.3M89.5 494.3V486.0M95.5 494.3V487.5M96.5 494.3V482.3M99.5 494.3V481.4M102.5 494.3V483.5M104.5 494.3V487.9M105.5 494.3V481.3M111.5 494.3V482.0M119.5 494.3V486.2M120.5 494.3V483.3M126.5 494.3V481.2M131.5 494.3V488.3M132.5 494.3V487.1M134.5 494.3V488.7M137.5 494.3V482.6M141.5 494.3V486.0M143.5 494.3V478.9M144.5 494.3V483.0M147.5 494.3V480.4M152.5 494.3V479.8M153.5 494.3V486.9M155.5 494.3V488.1M156.5 494.3V487.3M158.5 494.3V482.3M159.5 494.3V489.5M161.5 494.3V485.3M162.5 494.3V488.9M165.5 494.3V482.3M168.5 494.3V484.8M170.5 494.3V485.8M177.5 494.3V488.6M179.5 494.3V489.8M182.5 494.3V488.1M185.5 494.3V481.5M188.5 494.3V483.6M191.5 494.3V488.1M192.5 494.3V485.8M194.5 494.3V483.0M200.5 494.3V482.7M201.5 494.3V487.2M206.5 494.3V490.7M207.5 494.3V484.7M209.5 494.3V491.9M215.5 494.3V490.2M218.5 494.3V490.0M222.5 494.3V490.9M225.5 494.3V489.3M227.5 494.3V491.3M236.5 494.3V486.3M240.5 494.3V488.9M242.5 494.3V483.5M245.5 494.3V488.0M246.5 494.3V487.2M248.5 494.3V487.3M251.5 494.3V487.2M254.5 494.3V484.6M255.5 494.3V481.0M258.5 494.3V488.1M260.5 494.3V484.6M261.5 494.3V484.5M264.5 494.3V490.2M266.5 494.3V490.3M272.5 494.3V482.9M273.5 494.3V481.5M279.5 494.3V492.0M281.5 494.3V491.0M282.5 494.3V490.8M290.5 494.3V490.9M291.5 494.3V491.4M294.5 494.3V491.5M302.5 494.3V491.4M305.5 494.3V492.2M308.5 494.3V490.1M309.5 494.3V492.7M311.5 494.3V488.6M312.5 494.3V489.7M314.5 494.3V488.8M320.5 494.3V492.3M324.5 494.3V491.8M327.5 494.3V488.5M332.5 494.3V485.6M333.5 494.3V488.2M336.5 494.3V491.0M338.5 494.3V487.7M339.5 494.3V485.4M341.5 494.3V487.6M342.5 494.3V485.2M344.5 494.3V491.0M345.5 494.3V480.7M348.5 494.3V488.2M350.5 494.3V485.5M359.5 494.3V481.3M363.5 494.3V479.3M369.5 494.3V482.4M371.5 494.3V483.1M372.5 494.3V470.7M374.5 494.3V480.7M375.5 494.3V482.8M377.5 494.3V484.9M378.5 494.3V470.7M381.5 494.3V482.3M383.5 494.3V487.0M389.5 494.3V477.4M392.5 494.3V467.0M393.5 494.3V470.2M395.5 494.3V466.9M398.5 494.3V478.9M399.5 494.3V484.7M402.5 494.3V478.3M411.5 494.3V460.1M413.5 494.3V481.1M417.5 494.3V481.3M422.5 494.3V482.1M423.5 494.3V481.5M425.5 494.3V478.9M428.5 494.3V486.2M434.5 494.3V480.9M435.5 494.3V488.3M450.5 494.3V469.2M453.5 494.3V468.7M455.5 494.3V487.9M461.5 494.3V489.1M462.5 494.3V488.9M467.5 494.3V488.4M470.5 494.3V485.4M477.5 494.3V489.3M479.5 494.3V488.4M480.5 494.3V491.1M482.5 494.3V491.4M483.5 494.3V490.7M485.5 494.3V491.6M488.5 494.3V490.7M489.5 494.3V491.6M491.5 494.3V489.9M494.5 494.3V487.0M495.5 494.3V483.5M497.5 494.3V486.5M501.5 494.3V482.8M503.5 494.3V487.8M504.5 494.3V481.7M509.5 494.3V481.8M510.5 494.3V482.0M515.5 494.3V481.6M516.5 494.3V491.3M518.5 494.3V482.6M519.5 494.3V483.6M521.5 494.3V485.5M524.5 494.3V491.2M528.5 494.3V491.9M533.5 494.3V490.4M534.5 494.3V491.2M536.5 494.3V484.1M537.5 494.3V484.7M539.5 494.3V487.7M540.5 494.3V488.1M542.5 494.3V485.6M545.5 494.3V490.5M548.5 494.3V488.1M551.5 494.3V484.5M552.5 494.3V489.9M554.5 494.3V491.0M555.5 494.3V486.9M557.5 494.3V486.4M564.5 494.3V484.0M566.5 494.3V488.0M567.5 494.3V480.8M569.5 494.3V486.9M573.5 494.3V480.3M575.5 494.3V484.1M576.5 494.3V488.4M584.5 494.3V487.1M585.5 494.3V484.5M590.5 494.3V479.6M599.5 494.3V480.9M600.5 494.3V478.1M602.5 494.3V470.2M605.5 494.3V477.1M611.5 494.3V480.2M612.5 494.3V465.4M617.5 494.3V484.7M620.5 494.3V483.3M621.5 494.3V481.4M624.5 494.3V475.7M626.5 494.3V484.9M629.5 494.3V481.1M635.5 494.3V485.2M636.5 494.3V483.8M638.5 494.3V488.8M639.5 494.3V480.8M642.5 494.3V486.0M647.5 494.3V480.4M650.5 494.3V482.3M651.5 494.3V490.0M654.5 494.3V487.3M657.5 494.3V487.3M662.5 494.3V484.7M663.5 494.3V485.5M669.5 494.3V484.0M671.5 494.3V484.9M674.5 494.3V486.3M675.5 494.3V481.0M680.5 494.3V483.1M684.5 494.3V483.2M686.5 494.3V489.0M687.5 494.3V483.0M690.5 494.3V486.1M693.5 494.3V487.3M695.5 494.3V485.7M699.5 494.3V491.2M701.5 494.3V489.1M702.5 494.3V486.9M704.5 494.3V491.5M708.5 494.3V491.6M713.5 494.3V491.7M716.5 494.3V490.7M722.5 494.3V489.1M726.5 494.3V490.3M728.5 494.3V487.0M731.5 494.3V488.2M732.5 494.3V485.7M734.5 494.3V486.1M744.5 494.3V488.0M749.5 494.3V491.9M752.5 494.3V488.4M753.5 494.3V489.8M756.5 494.3V492.2M758.5 494.3V489.5M759.5 494.3V488.6M768.5 494.3V486.3M770.5 494.3V492.2M771.5 494.3V485.9M773.5 494.3V483.9M782.5 494.3V472.8M786.5 494.3V481.2M789.5 494.3V466.2M791.5 494.3V478.7M797.5 494.3V450.6M800.5 494.3V481.7M801.5 494.3V472.1M803.5 494.3V466.2M804.5 494.3V465.9M810.5 494.3V482.9M812.5 494.3V483.3M813.5 494.3V482.6M815.5 494.3V483.0M818.5 494.3V489.3M819.5 494.3V481.4M822.5 494.3V487.2M825.5 494.3V491.0M827.5 494.3V488.1M828.5 494.3V489.0M831.5 494.3V490.2M833.5 494.3V490.2M834.5 494.3V492.0M837.5 494.3V488.1M839.5 494.3V488.0M842.5 494.3V489.5M843.5 494.3V489.3M845.5 494.3V491.6M854.5 494.3V492.3M864.5 494.3V489.6M866.5 494.3V491.8M869.5 494.3V491.3M870.5 494.3V491.4M872.5 494.3V490.9M875.5 494.3V487.0M879.5 494.3V488.2M882.5 494.3V487.6M884.5 494.3V488.2M902.5 494.3V490.4M903.5 494.3V490.3M905.5 494.3V492.6M906.5 494.3V492.5M909.5 494.3V491.1M914.5 494.3V490.8M917.5 494.3V490.8M920.5 494.3V490.9M921.5 494.3V491.9M926.5 494.3V492.2M927.5 494.3V493.0M930.5 494.3V492.9M935.5 494.3V489.8M936.5 494.3V489.7M938.5 494.3V487.9M941.5 494.3V489.2M944.5 494.3V484.4M951.5 494.3V491.9M953.5 494.3V484.0M954.5 494.3V485.1M956.5 494.3V489.0M959.5 494.3V487.6M962.5 494.3V485.1M963.5 494.3V485.2M965.5 494.3V482.0M971.5 494.3V488.3M972.5 494.3V485.1M975.5 494.3V487.8M980.5 494.3V491.7M983.5 494.3V484.2M986.5 494.3V491.3M995.5 494.3V486.8M998.5 494.3V485.2M1002.5 494.3V487.9M1007.5 494.3V489.6M1008.5 494.3V490.8M1011.5 494.3V481.5M1014.5 494.3V489.6M1016.5 494.3V487.5M1017.5 494.3V489.3M1020.5 494.3V489.6M1022.5 494.3V484.6M1025.5 494.3V486.0M1031.5 494.3V489.2M1038.5 494.3V486.0M1040.5 494.3V482.2M1041.5 494.3V488.9" stroke="#26a69a" stroke-width="1.0" stroke-opacity="0.3" fill="none"/>
<path d="M0.5 494.3V489.5M5.5 494.3V489.0M12.5 494.3V490.6M14.5 494.3V489.7M15.5 494.3V491.1M24.5 494.3V490.8M29.5 494.3V488.1M32.5 494.3V481.3M38.5 494.3V477.8M41.5 494.3V488.8M42.5 494.3V487.2M45.5 494.3V487.7M47.5 494.3V488.4M48.5 494.3V489.6M53.5 494.3V484.5M68.5 494.3V489.4M69.5 494.3V486.7M74.5 494.3V485.6M77.5 494.3V484.7M78.5 494.3V488.7M80.5 494.3V487.3M83.5 494.3V480.3M90.5 494.3V486.7M92.5 494.3V488.3M93.5 494.3V483.5M98.5 494.3V490.8M101.5 494.3V490.3M107.5 494.3V479.8M108.5 494.3V489.8M110.5 494.3V486.5M113.5 494.3V490.3M114.5 494.3V486.9M116.5 494.3V483.9M117.5 494.3V482.3M122.5 494.3V485.2M123.5 494.3V489.5M125.5 494.3V490.3M128.5 494.3V484.5M129.5 494.3V483.7M135.5 494.3V489.3M138.5 494.3V487.7M140.5 494.3V485.0M146.5 494.3V479.6M149.5 494.3V481.6M150.5 494.3V484.4M164.5 494.3V490.8M167.5 494.3V482.8M171.5 494.3V489.2M173.5 494.3V491.2M174.5 494.3V484.6M176.5 494.3V481.5M180.5 494.3V483.0M183.5 494.3V484.5M186.5 494.3V483.0M189.5 494.3V489.4M195.5 494.3V491.0M197.5 494.3V485.2M198.5 494.3V484.7M203.5 494.3V489.2M204.5 494.3V491.2M210.5 494.3V491.1M212.5 494.3V492.5M213.5 494.3V487.4M216.5 494.3V489.0M219.5 494.3V489.2M221.5 494.3V486.1M224.5 494.3V488.7M228.5 494.3V488.2M230.5 494.3V484.3M231.5 494.3V483.6M233.5 494.3V486.5M234.5 494.3V491.2M237.5 494.3V486.5M239.5 494.3V487.3M243.5 494.3V489.9M249.5 494.3V486.8M252.5 494.3V488.9M257.5 494.3V489.9M263.5 494.3V485.2M267.5 494.3V481.7M269.5 494.3V483.2M270.5 494.3V489.8M275.5 494.3V489.0M276.5 494.3V485.9M278.5 494.3V490.8M284.5 494.3V492.1M285.5 494.3V491.7M287.5 494.3V491.2M288.5 494.3V491.6M293.5 494.3V491.5M296.5 494.3V492.7M297.5 494.3V491.5M299.5 494.3V493.6M300.5 494.3V493.5M303.5 494.3V490.4M306.5 494.3V491.0M315.5 494.3V491.8M317.5 494.3V489.3M318.5 494.3V487.3M321.5 494.3V491.2M323.5 494.3V485.7M326.5 494.3V485.3M329.5 494.3V490.3M330.5 494.3V488.0M335.5 494.3V482.5M347.5 494.3V489.6M351.5 494.3V483.8M353.5 494.3V477.7M354.5 494.3V489.8M356.5 494.3V480.4M357.5 494.3V479.9M360.5 494.3V485.7M362.5 494.3V477.1M365.5 494.3V477.8M366.5 494.3V481.3M368.5 494.3V483.5M380.5 494.3V479.1M384.5 494.3V483.4M386.5 494.3V480.1M387.5 494.3V482.6M390.5 494.3V484.2M396.5 494.3V474.6M401.5 494.3V477.6M404.5 494.3V478.4M405.5 494.3V458.7M407.5 494.3V478.1M408.5 494.3V456.2M410.5 494.3V482.1M414.5 494.3V470.6M416.5 494.3V468.9M419.5 494.3V471.6M420.5 494.3V480.2M426.5 494.3V481.8M429.5 494.3V490.0M431.5 494.3V483.6M432.5 494.3V489.6M437.5 494.3V487.1M438.5 494.3V487.6M440.5 494.3V482.0M441.5 494.3V478.7M443.5 494.3V476.8M444.5 494.3V482.2M446.5 494.3V483.4M447.5 494.3V474.2M449.5 494.3V482.4M452.5 494.3V481.8M456.5 494.3V478.0M458.5 494.3V484.0M459.5 494.3V486.7M464.5 494.3V485.5M465.5 494.3V489.7M468.5 494.3V490.5M471.5 494.3V492.2M473.5 494.3V491.3M474.5 494.3V489.7M476.5 494.3V490.3M486.5 494.3V490.5M492.5 494.3V490.8M498.5 494.3V483.1M500.5 494.3V488.6M506.5 494.3V483.7M507.5 494.3V486.3M512.5 494.3V483.2M513.5 494.3V489.5M522.5 494.3V490.5M525.5 494.3V484.7M527.5 494.3V485.3M530.5 494.3V486.4M531.5 494.3V491.9M543.5 494.3V484.9M546.5 494.3V486.7M549.5 494.3V482.2M558.5 494.3V491.5M560.5 494.3V485.2M561.5 494.3V486.1M563.5 494.3V481.6M570.5 494.3V489.5M572.5 494.3V490.9M578.5 494.3V489.8M579.5 494.3V482.5M581.5 494.3V490.8M582.5 494.3V488.5M587.5 494.3V485.0M588.5 494.3V486.2M591.5 494.3V482.0M593.5 494.3V485.1M594.5 494.3V484.1M596.5 494.3V480.6M597.5 494.3V484.5M603.5 494.3V472.7M606.5 494.3V483.8M608.5 494.3V474.8M609.5 494.3V474.0M614.5 494.3V469.9M615.5 494.3V463.6M618.5 494.3V465.2M623.5 494.3V479.3M627.5 494.3V467.1M630.5 494.3V475.7M632.5 494.3V486.3M633.5 494.3V483.1M641.5 494.3V486.9M644.5 494.3V486.8M645.5 494.3V489.1M648.5 494.3V484.6M653.5 494.3V486.1M656.5 494.3V483.5M659.5 494.3V485.2M660.5 494.3V489.5M665.5 494.3V491.1M666.5 494.3V488.6M668.5 494.3V487.2M672.5 494.3V485.7M677.5 494.3V485.6M678.5 494.3V482.0M681.5 494.3V490.8M683.5 494.3V485.3M689.5 494.3V490.6M692.5 494.3V485.2M696.5 494.3V486.9M698.5 494.3V485.7M705.5 494.3V491.8M707.5 494.3V490.7M710.5 494.3V491.9M711.5 494.3V489.5M714.5 494.3V492.6M717.5 494.3V489.9M719.5 494.3V490.5M720.5 494.3V491.3M723.5 494.3V490.5M725.5 494.3V489.8M729.5 494.3V487.5M735.5 494.3V489.1M737.5 494.3V491.9M738.5 494.3V491.7M740.5 494.3V491.0M741.5 494.3V488.4M743.5 494.3V488.9M746.5 494.3V491.3M747.5 494.3V491.9M750.5 494.3V492.5M755.5 494.3V488.6M761.5 494.3V491.6M762.5 494.3V491.1M764.5 494.3V491.9M765.5 494.3V490.9M767.5 494.3V491.7M774.5 494.3V484.1M776.5 494.3V483.6M777.5 494.3V487.4M779.5 494.3V485.5M780.5 494.3V464.3M783.5 494.3V475.6M785.5 494.3V469.9M788.5 494.3V457.1M792.5 494.3V454.1M794.5 494.3V475.5M795.5 494.3V481.8M798.5 494.3V452.2M806.5 494.3V485.5M807.5 494.3V486.5M809.5 494.3V476.4M816.5 494.3V486.4M821.5 494.3V483.1M824.5 494.3V491.0M830.5 494.3V488.8M836.5 494.3V488.0M840.5 494.3V488.9M846.5 494.3V490.9M848.5 494.3V491.3M849.5 494.3V492.3M851.5 494.3V491.5M852.5 494.3V488.3M855.5 494.3V489.0M857.5 494.3V492.2M858.5 494.3V488.0M860.5 494.3V490.1M861.5 494.3V489.2M863.5 494.3V492.3M867.5 494.3V487.4M873.5 494.3V485.7M876.5 494.3V489.0M878.5 494.3V486.3M881.5 494.3V488.5M885.5 494.3V491.8M887.5 494.3V489.4M888.5 494.3V492.4M890.5 494.3V489.3M891.5 494.3V490.1M893.5 494.3V490.0M894.5 494.3V491.5M896.5 494.3V490.1M897.5 494.3V492.1M899.5 494.3V491.2M900.5 494.3V492.8M908.5 494.3V490.4M911.5 494.3V490.9M912.5 494.3V491.3M915.5 494.3V493.1M918.5 494.3V491.5M923.5 494.3V493.1M924.5 494.3V492.2M929.5 494.3V491.4M932.5 494.3V492.7M933.5 494.3V491.8M939.5 494.3V490.5M942.5 494.3V484.4M945.5 494.3V487.7M947.5 494.3V487.6M948.5 494.3V490.3M950.5 494.3V490.5M957.5 494.3V487.3M960.5 494.3V483.7M966.5 494.3V485.0M968.5 494.3V488.2M969.5 494.3V486.1M974.5 494.3V485.9M977.5 494.3V486.1M978.5 494.3V486.1M981.5 494.3V490.7M984.5 494.3V486.7M987.5 494.3V485.2M989.5 494.3V489.6M990.5 494.3V489.7M992.5 494.3V488.7M993.5 494.3V487.1M996.5 494.3V483.6M999.5 494.3V489.8M1001.5 494.3V483.1M1004.5 494.3V486.1M1005.5 494.3V489.7M1010.5 494.3V487.4M1013.5 494.3V488.3M1019.5 494.3V488.4M1023.5 494.3V485.6M1026.5 494.3V490.7M1028.5 494.3V487.7M1029.5 494.3V485.7M1032.5 494.3V483.3M1034.5 494.3V489.0M1035.5 494.3V489.2M1037.5 494.3V491.2M1043.5 494.3V484.8" stroke="#ef5350" stroke-width="1.0" stroke-opacity="0.3" fill="none"/>
<path d="M32.5 494.3V462.0M67.5 494.3V478.0M70.5 494.3V476.0M72.5 494.3V470.0M77.5 494.3V476.0M98.5 494.3V464.6M100.5 494.3V474.0M103.5 494.3V469.0M115.5 494.3V477.0M118.5 494.3V469.0M119.5 494.3V475.0M126.5 494.3V461.0M139.5 494.3V476.0M143.5 494.3V470.0M146.5 494.3V470.0M164.5 494.3V476.0M180.5 494.3V472.0M183.5 494.3V475.0M186.5 494.3V474.0M221.5 494.3V478.0M224.5 494.3V469.0M248.5 494.3V453.0M249.5 494.3V453.0M252.5 494.3V411.0M306.5 494.3V443.2M311.5 494.3V473.0M316.5 494.3V464.0M322.5 494.3V475.6M325.5 494.3V478.0M332.5 494.3V461.0M350.5 494.3V440.0M355.5 494.3V420.0M357.5 494.3V449.0M361.5 494.3V456.0M375.5 494.3V409.0M381.5 494.3V455.0M396.5 494.3V421.0M398.5 494.3V422.0M401.5 494.3V434.0M401.5 494.3V386.0M428.5 494.3V399.0M429.5 494.3V428.0M433.5 494.3V416.0M452.5 494.3V436.0M475.5 494.3V457.0M488.5 494.3V466.8M493.5 494.3V464.0M499.5 494.3V465.0M506.5 494.3V473.0M519.5 494.3V468.0M529.5 494.3V480.0M551.5 494.3V472.0M561.5 494.3V472.0M565.5 494.3V472.5M572.5 494.3V462.6M586.5 494.3V444.0M593.5 494.3V403.0M596.5 494.3V443.0M600.5 494.3V459.0M613.5 494.3V421.0M614.5 494.3V449.0M622.5 494.3V457.0M640.5 494.3V458.7M648.5 494.3V476.0M652.5 494.3V474.7M664.5 494.3V473.0M671.5 494.3V467.7M696.5 494.3V480.0M710.5 494.3V478.0M721.5 494.3V473.0M755.5 494.3V482.6M771.5 494.3V465.4M773.5 494.3V465.0M774.5 494.3V330.4M776.5 494.3V427.0M781.5 494.3V377.7M846.5 494.3V479.0M852.5 494.3V482.6M858.5 494.3V476.0M874.5 494.3V479.0M901.5 494.3V474.0M936.5 494.3V479.0M938.5 494.3V477.5M941.5 494.3V467.7M962.5 494.3V474.0M988.5 494.3V476.6M991.5 494.3V480.5M997.5 494.3V471.0M1005.5 494.3V479.4M1007.5 494.3V479.4M1025.5 494.3V476.6M1027.5 494.3V434.4M1031.5 494.3V474.7M1043.5 494.3V454.7" stroke="#26a69a" stroke-width="1" stroke-opacity="0.5" fill="none"/>
<path d="M18.5 494.3V459.0M27.5 494.3V475.0M29.5 494.3V468.0M36.5 494.3V468.0M74.5 494.3V467.0M81.5 494.3V476.0M106.5 494.3V474.0M123.5 494.3V476.0M134.5 494.3V477.0M150.5 494.3V474.0M219.5 494.3V464.0M237.5 494.3V480.0M338.5 494.3V470.5M342.5 494.3V477.5M368.5 494.3V470.5M391.5 494.3V329.0M404.5 494.3V441.0M434.5 494.3V435.0M443.5 494.3V451.0M490.5 494.3V476.0M497.5 494.3V474.0M521.5 494.3V477.5M526.5 494.3V474.7M531.5 494.3V474.0M535.5 494.3V479.0M554.5 494.3V474.0M592.5 494.3V450.0M602.5 494.3V352.0M672.5 494.3V454.5M680.5 494.3V468.0M719.5 494.3V468.5M723.5 494.3V477.5M780.5 494.3V329.8M784.5 494.3V430.5M838.5 494.3V480.0M841.5 494.3V479.8M877.5 494.3V479.8M902.5 494.3V483.0M943.5 494.3V457.0M963.5 494.3V451.6M975.5 494.3V476.0M980.5 494.3V481.0M998.5 494.3V468.0M1001.5 494.3V479.7M1035.5 494.3V471.0" stroke="#ef5350" stroke-width="1" stroke-opacity="0.5" fill="none"/>
<polygon points="0,494.3 0,485 8,485.6 16,485 20,481 26,482 32,481 38,479 44,479.6 50,481.6 56,483 64,486.4 70,486 76,483 84,480.6 92,479.6 100,480.4 108,480.4 114,482.4 120,481.6 126,480.4 132,481.6 138,480 144,479 150,479 158,480.4 166,481 174,482.4 182,482 190,482.4 198,483 206,485 212,487 217,488 220,486 228,485 236,484 244,483.6 247,486 252.7,481 259.7,481 268,481.7 275,481 282,489.6 290.6,491 300.5,492 307.5,488.8 316,487.6 324.4,485.4 332.8,483 341,482.3 349.7,481.7 355,477.5 363.8,474 370.8,472 375,466.8 380.6,467.7 386,472.5 392,466 397.5,460.6 403,454.5 407,453 415.8,457.8 420,467.7 427,474 431,480 437,474 444,469.6 449.5,469 453,465.7 458,474 465,482.6 473.5,488 477.7,486.5 480.5,490.7 487,490.7 492.7,486 499.7,482.6 506.7,481.7 513.8,482.6 522,484.6 530.6,486 539,484.6 547.5,483 556,483.7 564.4,482.6 572.8,481 580,481.7 585.5,485.4 589.7,481.7 594,475.3 599.5,473.3 602.4,467 608,463.5 612,460 619,460 622,465 627,464 629,471.3 634.7,472.7 640,474 646,478 653,479.8 660,482.6 667,484.6 672.7,481 679.7,481.7 688,482.6 696.6,484.6 705,488.8 709,490 716,488 720,487.4 728.4,486.5 737,486 744,486.5 749.5,488.8 756.6,488.8 765,488 770.6,486.5 774,477.5 777.7,473.3 780.5,463.5 784.7,454.5 790,450 797.4,448 800.7,450.8 802,457.8 805,459.8 807,469 811.4,476 817,481 822.7,483.7 828,486 835,488 843.8,488.8 852,488 860.6,486.5 869,486.5 877.5,486.5 884.5,487.4 890,489.6 900,490 911,490.7 922.5,490.7 931,491.6 936.6,488.8 942,484.6 949.4,484.7 960,484.7 962.7,482.8 967,483 972,486 979,485 987,484 990,485 994.7,485.6 999.4,482.8 1005.6,482.5 1012,482.5 1018,484 1024.4,485.6 1029,484 1035,483.6 1041.5,482.8 1043.4,481 1044,481 1044,494.3" fill="#9c27b0" fill-opacity="0.5"/>
<polyline points="0,485 8,485.6 16,485 20,481 26,482 32,481 38,479 44,479.6 50,481.6 56,483 64,486.4 70,486 76,483 84,480.6 92,479.6 100,480.4 108,480.4 114,482.4 120,481.6 126,480.4 132,481.6 138,480 144,479 150,479 158,480.4 166,481 174,482.4 182,482 190,482.4 198,483 206,485 212,487 217,488 220,486 228,485 236,484 244,483.6 247,486 252.7,481 259.7,481 268,481.7 275,481 282,489.6 290.6,491 300.5,492 307.5,488.8 316,487.6 324.4,485.4 332.8,483 341,482.3 349.7,481.7 355,477.5 363.8,474 370.8,472 375,466.8 380.6,467.7 386,472.5 392,466 397.5,460.6 403,454.5 407,453 415.8,457.8 420,467.7 427,474 431,480 437,474 444,469.6 449.5,469 453,465.7 458,474 465,482.6 473.5,488 477.7,486.5 480.5,490.7 487,490.7 492.7,486 499.7,482.6 506.7,481.7 513.8,482.6 522,484.6 530.6,486 539,484.6 547.5,483 556,483.7 564.4,482.6 572.8,481 580,481.7 585.5,485.4 589.7,481.7 594,475.3 599.5,473.3 602.4,467 608,463.5 612,460 619,460 622,465 627,464 629,471.3 634.7,472.7 640,474 646,478 653,479.8 660,482.6 667,484.6 672.7,481 679.7,481.7 688,482.6 696.6,484.6 705,488.8 709,490 716,488 720,487.4 728.4,486.5 737,486 744,486.5 749.5,488.8 756.6,488.8 765,488 770.6,486.5 774,477.5 777.7,473.3 780.5,463.5 784.7,454.5 790,450 797.4,448 800.7,450.8 802,457.8 805,459.8 807,469 811.4,476 817,481 822.7,483.7 828,486 835,488 843.8,488.8 852,488 860.6,486.5 869,486.5 877.5,486.5 884.5,487.4 890,489.6 900,490 911,490.7 922.5,490.7 931,491.6 936.6,488.8 942,484.6 949.4,484.7 960,484.7 962.7,482.8 967,483 972,486 979,485 987,484 990,485 994.7,485.6 999.4,482.8 1005.6,482.5 1012,482.5 1018,484 1024.4,485.6 1029,484 1035,483.6 1041.5,482.8 1043.4,481" fill="none" stroke="#9c27b0" stroke-width="1.25" stroke-opacity="0.7" stroke-linejoin="round"/>
<rect x="0" y="494.85" width="1280" height="1.25" fill="#e9e9ec"/>
<rect x="0" y="602.05" width="1280" height="1.5" fill="#e6e6ea"/>
<rect x="1216.0" y="0" width="1.1" height="638" fill="#e1e1e4"/>
<rect x="0" y="637.6" width="1280" height="2.4" fill="#e6e9f2"/>
<rect x="0" y="533.2" width="1215.95" height="41" fill="#7e57c2" fill-opacity="0.1"/>
<line x1="0" y1="533.2" x2="1215.95" y2="533.2" stroke="#80828c" stroke-width="1.1" stroke-dasharray="6.6 7.47" stroke-dashoffset="6.07"/>
<line x1="0" y1="574.2" x2="1215.95" y2="574.2" stroke="#80828c" stroke-width="1.1" stroke-dasharray="6.6 7.47" stroke-dashoffset="6.07"/>
<polyline points="0,548 3,559 5,556.6 7,558 10,553 17,532.4 19,543 20.6,540 23.4,546.4 25.6,541 29,543 31,548 35,536.4 39,550.6 42,550 43,545.6 46,546 50,557 54,568.4 58,548.6 59.6,552 62,549 64.4,553 68,541 71.4,531 77.4,522.6 81,546 82.4,543.6 84,546 86,545 89,548 93,538 96,533 100,522 104,517.4 106,532 108,536 110,536.6 112,540 114.4,541.4 118,545.4 120,537 122.4,534 123.6,546 126.4,537 128,540 129.6,539.4 132,547.4 133.6,549 136.4,554.4 140,542.6 141.4,551 145,540 146.6,545 149,537.4 151,544.6 153.6,541.4 157,550 159,552 161.6,553.6 165,540 166.6,538.6 169,551.6 171,552.4 173,554.4 175.6,550 179,543 188,530 197,521 204,517.4 211,513 217,511 218,548 222,562 223,560.6 228,569 231,562.6 233,567 235,558.6 236.6,565.4 238,564 242,568 248,569 249,568 250,553 252.6,543.6 254.4,554 257,560 259.6,560.6 262,567 266,569 271,570.6 276,576.6 281,578.6 287,579.4 292,584.6 296,585.4 301,586 305,588.6 308.6,592.4 310,538 313,563 316,564 319,571 321,572 324,578 325.6,572 327,575 330,563 334,549 337,540.4 340,553 341,550 343,554.6 345,556 347,565 348.6,565.4 350,549 352,543 355,538.6 357.4,532.4 359.6,551 362,540 364.4,550 366.4,553 369,554.6 371,547 374,543.6 377,542.6 381,535 385,526 389,521.4 391,531 393,525 397,519 400,529.4 402,525.4 405,534 408,538 412,541 416,542 419,545 426.4,545.4 428,529 431,518 433,515.6 436,520.6 438,519 441,513.6 443.4,513.4 447,524 451,525 455,543 457.6,549.6 473.6,550 476,573 478,584 481,590 485,591.6 488,592.4 489.4,560.6 490.6,562 491.6,568 494,550 497,539.4 499,538 500.6,535 502.4,546 504.4,548 510,564.6 517,565.4 519,553 521,564 522.6,569.4 524.4,567.6 526,568 528,558 531,550.6 533,550 535.6,562 538,554.6 539.4,553 541,555 543,554.6 546,544 549,534.4 553,534 555.6,548.6 556.6,547.4 559,558.6 561,550 562.6,556 564.4,550 566.6,555 569,554.4 571.4,546.4 573.6,553.4 575.6,552.6 578,558.6 581,565 582.4,563.6 585,568.6 587,556 590,543 593,532.6 596,529 598,524 600.6,519.6 602,532 604,537 607,548.6 609.6,559 612,563.6 615,566 618,567.4 619.6,571 622,561 623.6,558 625.6,562 628,569 630,566 633,570 636,574 638.6,577 640,571.6 642,575 644,573.6 646,575.6 649,575.6 651,568 654,559.4 656,564 658,568.6 661,564.6 663,568 665,557 666.4,558.6 669,552 671.4,547.4 674.6,555 677,545 679,541.4 680.6,542 682.4,540 684,542.6 685.4,542 688,550 690,548.6 692,545.4 694,551 696,546.6 697.4,550 699.4,542 700.6,541.4 703,548 705,551 707,555 709,554.6 711,547 713,546.6 715,550 717,547 718.6,549 721,558 723,566 726,568.6 728,567 731,573 734,577.4 736.4,579 738,577.4 739.4,579.4 742.6,573 745,560 747,559.6 750,569 751.6,564 752.6,566 755,555 756.6,553.4 758,560 761,552 763.6,553.6 765.6,554.4 767.6,549 769,548.6 772,540 775,529 778.4,520.6 780.6,531.4 782,531 784.4,544 787,549 789.6,554 791,556 793,556.4 795.6,564 798.4,569.4 800.6,570.4 802.6,560 805,566 806.4,565 808,568.6 811,563 813,561.6 815.6,565.4 818,567 820,564.4 821.4,565.4 822.6,562.6 824,566.6 826,560 828.6,562.6 832,563 835.4,563.4 838,574 839.4,577 841,564.4 843,570.6 845.6,573.4 849,579 853,582.4 856.4,583 858.4,567 859.6,565.4 862.4,569.4 864,567.4 866,570.6 868.4,563.6 871,564.4 872.6,555 874.4,548 877,556.4 878.6,559.6 880.6,563 882.4,565.4 884.4,565 887,567.4 890,569.4 892.4,573 895,568 897,572.6 899.4,571 901.4,552.4 903.6,563 906,558.6 909,560 911,559.4 912.6,561.6 914,557.6 915.6,558 918,563 921,570 924,575.4 926,566 927.6,566.6 929.6,559.4 930.6,561 932,553.6 934,555 936,545 938,538.6 939.4,547 941,540 943,539.4 945,541 947,545 948.4,545.4 950,550 951.4,546.6 952.6,551.6 955,547 957,546.4 960,546 962.6,534.4 964,544 966,542.6 968,541.4 969.4,539.4 970.6,542 973,542 974.4,538.6 976.4,542 978,536.6 980,549 981.6,552 982.4,550.6 984.4,556.6 987,550 990,545 991.4,546.6 994,538 995.6,538.6 997,532 998.6,530 1000,532.6 1002,547 1004,555.6 1006,547 1008,550.6 1010,550.6 1011.6,554 1012.6,552 1015,556.6 1018,562.4 1020,562 1022.6,553 1024,554 1026.6,541.4 1029.4,552.4 1031,549.4 1032.6,550.6 1034,553 1035.6,548 1037,549.4 1039,556.6 1042,562.4 1043.4,551" fill="none" stroke="#7e57c2" stroke-width="1.55" stroke-linejoin="round"/>
<g font-family="Liberation Sans, sans-serif">
<text x="1229.5" y="24.45" font-size="16.0" font-weight="normal" fill="#131722" stroke="#131722" stroke-width="0.3" textLength="37.25" lengthAdjust="spacingAndGlyphs">70000</text>
<text x="1229.5" y="64.45" font-size="16.0" font-weight="normal" fill="#131722" stroke="#131722" stroke-width="0.3" textLength="37.25" lengthAdjust="spacingAndGlyphs">54000</text>
<text x="1229.5" y="102.70" font-size="16.0" font-weight="normal" fill="#131722" stroke="#131722" stroke-width="0.3" textLength="37.25" lengthAdjust="spacingAndGlyphs">42000</text>
<text x="1229.5" y="143.85" font-size="16.0" font-weight="normal" fill="#131722" stroke="#131722" stroke-width="0.3" textLength="37.25" lengthAdjust="spacingAndGlyphs">32000</text>
<text x="1229.5" y="188.20" font-size="16.0" font-weight="normal" fill="#131722" stroke="#131722" stroke-width="0.3" textLength="37.25" lengthAdjust="spacingAndGlyphs">24000</text>
<text x="1229.5" y="270.20" font-size="16.0" font-weight="normal" fill="#131722" stroke="#131722" stroke-width="0.3" textLength="37.25" lengthAdjust="spacingAndGlyphs">14000</text>
<text x="1229.5" y="321.70" font-size="16.0" font-weight="normal" fill="#131722" stroke="#131722" stroke-width="0.3" textLength="37.25" lengthAdjust="spacingAndGlyphs">10000</text>
<text x="1229.5" y="363.20" font-size="16.0" font-weight="normal" fill="#131722" stroke="#131722" stroke-width="0.3" textLength="29.75" lengthAdjust="spacingAndGlyphs">7600</text>
<text x="1229.5" y="410.20" font-size="16.0" font-weight="normal" fill="#131722" stroke="#131722" stroke-width="0.3" textLength="29.75" lengthAdjust="spacingAndGlyphs">5600</text>
<text x="1229.5" y="453.85" font-size="16.0" font-weight="normal" fill="#131722" stroke="#131722" stroke-width="0.3" textLength="29.75" lengthAdjust="spacingAndGlyphs">4200</text>
<text x="1229.5" y="495.45" font-size="16.0" font-weight="normal" fill="#131722" stroke="#131722" stroke-width="0.3" textLength="29.75" lengthAdjust="spacingAndGlyphs">3200</text>
<text x="1229.5" y="528.20" font-size="16.0" font-weight="normal" fill="#131722" stroke="#131722" stroke-width="0.3" textLength="35" lengthAdjust="spacingAndGlyphs">80.00</text>
<text x="1229.5" y="570.20" font-size="16.0" font-weight="normal" fill="#131722" stroke="#131722" stroke-width="0.3" textLength="35" lengthAdjust="spacingAndGlyphs">40.00</text>
<path d="M1216.0 194.1H1272.7a2.4 2.4 0 0 1 2.4 2.4V213.4a2.4 2.4 0 0 1 -2.4 2.4H1216.0Z" fill="#29a69a"/>
<path d="M1216.0 215.8H1272.7a2.4 2.4 0 0 1 2.4 2.4V235.7a2.4 2.4 0 0 1 -2.4 2.4H1216.0Z" fill="#004d40"/>
<path d="M1216.0 238.6H1272.7a2.4 2.4 0 0 1 2.4 2.4V258.1a2.4 2.4 0 0 1 -2.4 2.4H1216.0Z" fill="#004d40"/>
<text x="1229.5" y="210.70" font-size="16.0" font-weight="normal" fill="#fff" stroke="#fff" stroke-width="0.3" textLength="37.25" lengthAdjust="spacingAndGlyphs">20700</text>
<text x="1229.5" y="232.70" font-size="16.0" font-weight="normal" fill="#fff" stroke="#fff" stroke-width="0.3" textLength="37.25" lengthAdjust="spacingAndGlyphs">18500</text>
<text x="1229.5" y="254.55" font-size="16.0" font-weight="normal" fill="#fff" stroke="#fff" stroke-width="0.3" textLength="37.25" lengthAdjust="spacingAndGlyphs">15500</text>
<text x="32.4" y="626" font-size="16" font-weight="bold" fill="#131722" stroke="#131722" stroke-width="0.3" textLength="33.4" lengthAdjust="spacingAndGlyphs">1398</text>
<text x="347.7" y="626" font-size="16" font-weight="bold" fill="#131722" stroke="#131722" stroke-width="0.3" textLength="33.4" lengthAdjust="spacingAndGlyphs">1399</text>
<text x="653.2" y="626" font-size="16" font-weight="bold" fill="#131722" stroke="#131722" stroke-width="0.3" textLength="33.6" lengthAdjust="spacingAndGlyphs">1400</text>
<text x="965" y="626" font-size="16" font-weight="bold" fill="#131722" stroke="#131722" stroke-width="0.3" textLength="33" lengthAdjust="spacingAndGlyphs">1401</text>
<text x="805.3" y="109.6" font-size="18" fill="#004d40" stroke="#004d40" stroke-width="0.3" textLength="174" lengthAdjust="spacingAndGlyphs">Amoozesh-boors.com</text>
</g>
<text x="858.35" y="91.5" font-size="18" fill="#004d40" text-anchor="middle" font-family="'Liberation Sans', 'DejaVu Sans', sans-serif">انجمن خبرگان سرمایه گذاری ایران</text>
<g clip-path="url(#tc)" font-family="'Liberation Sans', 'DejaVu Sans', sans-serif" font-size="16" fill="#131722">
<text x="175" y="626" text-anchor="middle">خرداد</text>
<text x="493.3" y="626" text-anchor="middle">خرداد</text>
<text x="774.5" y="626" text-anchor="middle">اردیبهشت</text>
<text x="1088.2" y="626" text-anchor="middle">اردیبهشت</text>
<text x="876.9" y="626" text-anchor="middle">شهریور</text>
<text x="1207.6" y="626" text-anchor="middle">شهریور</text>
</g>
<circle cx="1251.9" cy="620.1" r="6.2" fill="none" stroke="#131722" stroke-width="1.4"/><path d="M1258.70 620.10L1261.50 620.10M1256.71 624.91L1258.69 626.89M1251.90 626.90L1251.90 629.70M1247.09 624.91L1245.11 626.89M1245.10 620.10L1242.30 620.10M1247.09 615.29L1245.11 613.31M1251.90 613.30L1251.90 610.50M1256.71 615.29L1258.69 613.31" stroke="#131722" stroke-width="1.5" fill="none"/>
</svg>
</body></html>
